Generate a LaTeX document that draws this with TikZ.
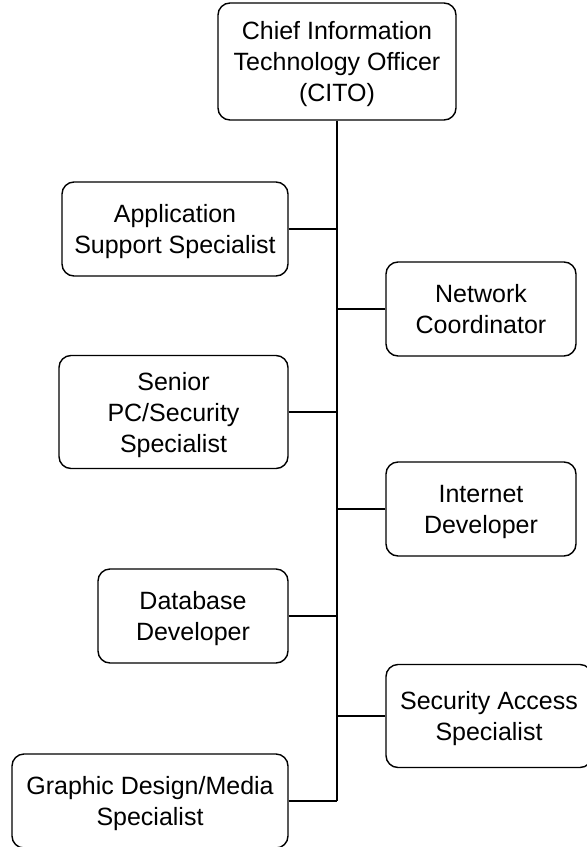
\documentclass[tikz,border=0pt]{standalone}
\usepackage{fontspec}
\setmainfont{Liberation Sans}
\newcommand{\boxtxt}[1]{\raisebox{-3pt}[\height][\depth]{\begin{tabular}{@{}c@{}}#1\end{tabular}}}
\begin{document}
\begin{tikzpicture}[x=1pt,y=-1pt,
  box/.style={draw=black,line width=1.4pt,rounded corners=12pt,align=center,inner sep=0pt,
    font=\fontsize{25}{31}\selectfont},
  conn/.style={draw=black,line width=1.4pt}]
\useasboundingbox (0,0) rectangle (587,847);
\node[box,minimum width=238pt,minimum height=117pt] (cito) at (337,61.5) {\boxtxt{Chief Information\\Technology Officer\\(CITO)}};
\node[box,minimum width=226pt,minimum height=94pt] (app) at (175,229) {\boxtxt{Application\\Support Specialist}};
\node[box,minimum width=190pt,minimum height=94pt] (net) at (481,309) {\boxtxt{Network\\Coordinator}};
\node[box,minimum width=229pt,minimum height=113pt] (sen) at (173.5,412) {\boxtxt{Senior\\PC/Security\\Specialist}};
\node[box,minimum width=190pt,minimum height=94pt] (inet) at (481,509) {\boxtxt{Internet\\Developer}};
\node[box,minimum width=190pt,minimum height=94pt] (db) at (193,616) {\boxtxt{Database\\Developer}};
\node[box,minimum width=206pt,minimum height=103pt] (sec) at (489,716) {\boxtxt{Security Access\\Specialist}};
\node[box,minimum width=276pt,minimum height=94pt] (gfx) at (150,801) {\boxtxt{Graphic Design/Media\\Specialist}};
\coordinate (end) at (337,801);
\draw[conn] (cito.south) -- (end);
\draw[conn] (app.east) -- (app.east -| cito.south);
\draw[conn] (net.west) -- (net.west -| cito.south);
\draw[conn] (sen.east) -- (sen.east -| cito.south);
\draw[conn] (inet.west) -- (inet.west -| cito.south);
\draw[conn] (db.east) -- (db.east -| cito.south);
\draw[conn] (sec.west) -- (sec.west -| cito.south);
\draw[conn] (gfx.east) -- (end);
\end{tikzpicture}
\end{document}
